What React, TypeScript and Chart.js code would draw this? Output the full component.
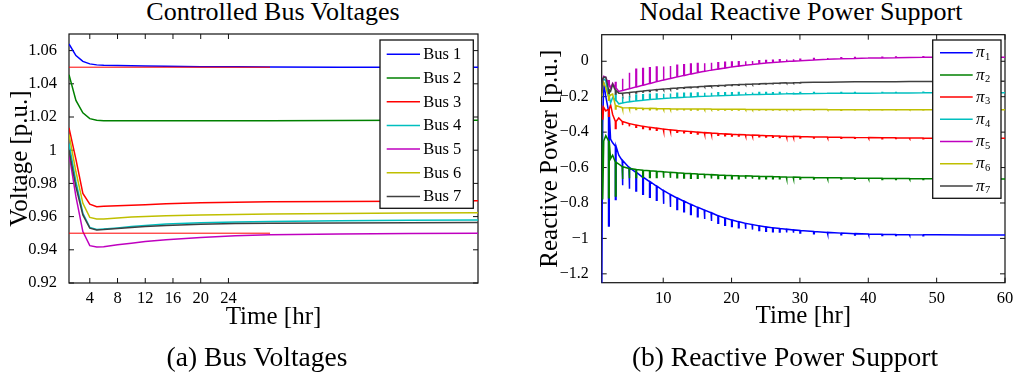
import React, { useEffect, useRef } from "react";
import { Chart, registerables } from "chart.js";

Chart.register(...registerables);

const FONT = '"Liberation Serif", "Times New Roman", serif';

// ---------- Controlled bus voltages ----------
const busTimes = [1, 2, 3, 4, 5, 6, 8, 10, 12, 15, 20, 25, 30, 40, 50, 60];
const bus1 = [1.064, 1.057, 1.0535, 1.052, 1.0514, 1.0512, 1.051, 1.0508, 1.0507, 1.0505, 1.0503, 1.0502, 1.0501, 1.05, 1.05, 1.05];
const bus2 = [1.0455, 1.03, 1.0225, 1.019, 1.018, 1.0178, 1.0178, 1.0178, 1.0178, 1.0178, 1.0178, 1.0178, 1.0178, 1.0179, 1.018, 1.018];
const bus3 = [1.0135, 0.9945, 0.974, 0.9675, 0.966, 0.9662, 0.9665, 0.9668, 0.9672, 0.9677, 0.9684, 0.9687, 0.9689, 0.9691, 0.9693, 0.9695];
const bus4 = [1.004, 0.981, 0.962, 0.9535, 0.9522, 0.9525, 0.9532, 0.954, 0.9547, 0.9555, 0.9563, 0.9568, 0.9571, 0.9575, 0.9578, 0.958];
const bus5 = [0.998, 0.972, 0.951, 0.9425, 0.9417, 0.9419, 0.943, 0.944, 0.945, 0.9461, 0.9474, 0.9484, 0.949, 0.9495, 0.9498, 0.95];
const bus6 = [1.0095, 0.987, 0.968, 0.9595, 0.9585, 0.9585, 0.9592, 0.9597, 0.9601, 0.9605, 0.961, 0.9613, 0.9615, 0.9618, 0.9621, 0.9623];
const bus7 = [1.0, 0.978, 0.961, 0.953, 0.952, 0.9522, 0.9528, 0.9535, 0.954, 0.9547, 0.9554, 0.9558, 0.956, 0.9562, 0.9563, 0.9564];
const busLabels = ["Bus 1", "Bus 2", "Bus 3", "Bus 4", "Bus 5", "Bus 6", "Bus 7"];

const limitTimes = [1, 30];
const upperLimit = [1.05, 1.05];
const lowerLimit = [0.95, 0.95];

const voltXTicks = [4, 8, 12, 16, 20, 24];
const voltYTicks = [0.92, 0.94, 0.96, 0.98, 1, 1.02, 1.04, 1.06];
const voltYLabels = ["0.92", "0.94", "0.96", "0.98", "1", "1.02", "1.04", "1.06"];

// ---------- Nodal reactive power support ----------
const qTimes = [
  1, 1.15, 1.3, 1.6, 2, 2.3, 2.6, 3, 3.5,
  4, 5, 6, 7, 8, 9, 10, 11, 12, 13,
  14, 15, 16, 17, 18, 19, 20, 21, 22, 23,
  24, 25, 26, 27, 28, 29, 30,
  32, 34, 36, 38, 40, 42, 44, 46, 48, 50,
  55, 60,
];

const pi1 = [
  -1.3, -0.35, -0.12, -0.2, -0.28, -0.44, -0.46, -0.48, -0.53,
  -0.56, -0.6, -0.627, -0.655, -0.68, -0.705, -0.73, -0.752, -0.772, -0.79,
  -0.808, -0.825, -0.84, -0.855, -0.872, -0.885, -0.896, -0.906, -0.915, -0.922,
  -0.929, -0.935, -0.94, -0.944, -0.948, -0.952, -0.955,
  -0.961, -0.966, -0.97, -0.973, -0.975, -0.977, -0.978, -0.979, -0.98, -0.98,
  -0.981, -0.981,
];
const pi1Jumps = [
  0, 0, 0, 0, -0.65, 0, 0, -0.3, 0,
  -0.14, -0.12, -0.105, -0.095, -0.088, -0.08, -0.075, -0.07, -0.065, -0.06,
  -0.057, -0.053, -0.05, -0.047, -0.043, -0.04, -0.037, -0.034, -0.031, -0.028,
  -0.026, -0.024, -0.022, -0.02, -0.018, -0.016, -0.015,
  -0.012, -0.01, -0.009, -0.008, -0.007, -0.006, -0.006, -0.005, -0.005, 0,
  0, 0,
];

const pi2 = [
  -0.3, -0.78, -0.45, -0.42, -0.45, -0.55, -0.53, -0.57, -0.58,
  -0.595, -0.605, -0.611, -0.615, -0.618, -0.621, -0.624, -0.627, -0.629, -0.632,
  -0.634, -0.636, -0.638, -0.64, -0.642, -0.643, -0.645, -0.646, -0.647, -0.648,
  -0.649, -0.65, -0.651, -0.652, -0.653, -0.654, -0.655,
  -0.656, -0.657, -0.658, -0.659, -0.66, -0.661, -0.662, -0.662, -0.663, -0.663,
  -0.664, -0.664,
];
const pi2Jumps = [
  0, 0, 0, 0, -0.32, 0, 0, -0.19, 0,
  -0.07, -0.055, -0.045, -0.04, -0.038, -0.035, -0.033, -0.031, -0.029, -0.027,
  -0.026, -0.024, -0.023, -0.022, -0.02, -0.019, -0.018, -0.017, -0.016, -0.015,
  -0.014, -0.013, -0.012, -0.011, -0.011, -0.01, -0.01,
  -0.009, -0.008, -0.007, -0.007, -0.006, -0.006, -0.005, -0.005, -0.005, -0.004,
  -0.004, 0,
];

const pi3 = [
  -0.25, -0.33, -0.26, -0.28, -0.27, -0.245, -0.3, -0.34, -0.32,
  -0.34, -0.352, -0.36, -0.367, -0.373, -0.378, -0.383, -0.387, -0.391, -0.394,
  -0.397, -0.4, -0.403, -0.405, -0.408, -0.41, -0.412, -0.414, -0.415, -0.417,
  -0.418, -0.42, -0.421, -0.422, -0.423, -0.424, -0.425,
  -0.427, -0.428, -0.429, -0.43, -0.431, -0.432, -0.432, -0.433, -0.433, -0.434,
  -0.434, -0.435,
];
const pi3Jumps = [
  0, 0, 0, 0, -0.04, 0, 0, -0.04, 0,
  -0.02, -0.015, -0.012, -0.012, -0.012, -0.012, -0.012, -0.01, -0.01, -0.01,
  -0.01, -0.01, -0.01, -0.01, -0.01, -0.01, -0.01, -0.008, -0.008, -0.008,
  -0.008, -0.008, -0.008, -0.008, -0.008, -0.008, -0.008,
  -0.006, -0.006, -0.005, -0.005, -0.005, -0.005, -0.004, -0.004, -0.004, -0.004,
  0, 0,
];

const pi4 = [
  -0.15, -0.11, -0.1, -0.11, -0.2, -0.235, -0.205, -0.22, -0.24,
  -0.235, -0.229, -0.224, -0.22, -0.216, -0.213, -0.21, -0.207, -0.205, -0.203,
  -0.201, -0.199, -0.197, -0.196, -0.194, -0.193, -0.192, -0.19, -0.189, -0.188,
  -0.187, -0.186, -0.186, -0.185, -0.184, -0.184, -0.183,
  -0.182, -0.181, -0.181, -0.18, -0.18, -0.179, -0.179, -0.179, -0.178, -0.178,
  -0.178, -0.178,
];
const pi4Jumps = [
  0, 0, 0, 0, 0.03, 0, 0, 0.03, 0,
  0.035, 0.035, 0.033, 0.031, 0.03, 0.028, 0.026, 0.025, 0.024, 0.022,
  0.021, 0.02, 0.019, 0.018, 0.017, 0.016, 0.015, 0.014, 0.013, 0.012,
  0.011, 0.01, 0.009, 0.009, 0.008, 0.008, 0.007,
  0.006, 0.005, 0.005, 0.004, 0.004, 0.003, 0.003, 0.003, 0.003, 0,
  0, 0,
];

const pi5 = [
  -0.16, -0.1, -0.085, -0.09, -0.13, -0.15, -0.125, -0.15, -0.17,
  -0.165, -0.155, -0.145, -0.135, -0.125, -0.115, -0.106, -0.097, -0.088, -0.08,
  -0.072, -0.064, -0.057, -0.05, -0.044, -0.038, -0.032, -0.027, -0.022, -0.018,
  -0.014, -0.01, -0.007, -0.004, -0.001, 0.001, 0.003,
  0.007, 0.011, 0.014, 0.016, 0.018, 0.019, 0.02, 0.021, 0.022, 0.022,
  0.023, 0.023,
];
const pi5Jumps = [
  0, 0, 0, 0, 0.02, 0, 0, 0.03, 0,
  0.066, 0.09, 0.1, 0.094, 0.089, 0.082, 0.076, 0.071, 0.066, 0.061,
  0.056, 0.051, 0.046, 0.041, 0.036, 0.032, 0.028, 0.025, 0.022, 0.019,
  0.017, 0.015, 0.013, 0.012, 0.011, 0.01, 0.009,
  0.008, 0.007, 0.006, 0.005, 0.005, 0.004, 0.004, 0.003, 0.003, 0,
  0, 0,
];

const pi6 = [
  -0.2, -0.14, -0.12, -0.15, -0.2, -0.19, -0.185, -0.25, -0.255,
  -0.262, -0.263, -0.264, -0.265, -0.266, -0.267, -0.268, -0.268, -0.269, -0.269,
  -0.27, -0.27, -0.27, -0.27, -0.271, -0.271, -0.271, -0.271, -0.271, -0.272,
  -0.272, -0.272, -0.272, -0.272, -0.272, -0.272, -0.272,
  -0.272, -0.272, -0.273, -0.273, -0.273, -0.273, -0.273, -0.273, -0.273, -0.273,
  -0.273, -0.273,
];
const pi6Jumps = [
  0, 0, 0, 0, -0.02, 0, 0, -0.02, 0,
  -0.01, -0.008, -0.008, -0.007, -0.007, -0.006, -0.006, -0.006, -0.005, -0.005,
  -0.005, -0.005, -0.005, -0.004, -0.004, -0.004, -0.004, -0.004, -0.004, -0.004,
  -0.003, -0.003, -0.003, -0.003, -0.003, -0.003, -0.003,
  -0.003, -0.003, -0.003, -0.002, -0.002, -0.002, -0.002, -0.002, -0.002, -0.002,
  0, 0,
];

const pi7 = [
  -0.18, -0.1, -0.09, -0.09, -0.16, -0.17, -0.13, -0.165, -0.18,
  -0.18, -0.176, -0.172, -0.168, -0.164, -0.16, -0.157, -0.154, -0.151, -0.148,
  -0.146, -0.144, -0.141, -0.139, -0.137, -0.135, -0.133, -0.131, -0.13, -0.128,
  -0.127, -0.126, -0.124, -0.123, -0.122, -0.121, -0.12,
  -0.119, -0.118, -0.117, -0.116, -0.116, -0.115, -0.115, -0.114, -0.114, -0.114,
  -0.113, -0.113,
];
const pi7Jumps = [
  0, 0, 0, 0, -0.02, 0, 0, -0.02, 0,
  -0.008, -0.007, -0.007, -0.006, -0.006, -0.006, -0.005, -0.005, -0.005, -0.005,
  -0.004, -0.004, -0.004, -0.004, -0.004, -0.004, -0.004, -0.004, -0.004, -0.004,
  -0.003, -0.003, -0.003, -0.003, -0.003, -0.003, -0.003,
  0, 0, 0, 0, 0, 0, 0, 0, 0, 0,
  0, 0,
];
const piLabels = ["π1", "π2", "π3", "π4", "π5", "π6", "π7"];

const powerXTicks = [10, 20, 30, 40, 50, 60];
const powerYTicks = [-1.2, -1, -0.8, -0.6, -0.4, -0.2, 0];
const powerYLabels = ["−1.2", "−1", "−0.8", "−0.6", "−0.4", "−0.2", "0"];

const lineColors = ["#0000ff", "#008000", "#ff0000", "#00bfbf", "#bf00bf", "#bfbf00", "#404040"];

// Duration (hours) a jump is held before the series settles back.
const JUMP_HOLD = 0.1;

// ---------- helpers ----------
type Pt = { x: number; y: number };

function pairUp(xs: number[], ys: number[]): Pt[] {
  return xs.map((x, i) => ({ x, y: ys[i] }));
}

// Each hourly controller update shows up as a short vertical excursion.
function withJumps(values: number[], jumps: number[]): Pt[] {
  const pts: Pt[] = [];
  qTimes.forEach((t, i) => {
    pts.push({ x: t, y: values[i] });
    if (jumps[i] !== 0) {
      pts.push({ x: t, y: values[i] + jumps[i] });
      pts.push({ x: t + JUMP_HOLD, y: values[i] + jumps[i] });
      pts.push({ x: t + JUMP_HOLD, y: values[i] });
    }
  });
  return pts;
}

// Box frame with inward tick marks on all four sides.
const frameTicks = {
  id: "frameTicks",
  beforeDatasetsDraw(chart: any) {
    const { ctx, chartArea: a, scales } = chart;
    const len = 5;
    ctx.save();
    ctx.strokeStyle = "#111";
    ctx.lineWidth = 1.2;
    ctx.strokeRect(a.left, a.top, a.right - a.left, a.bottom - a.top);
    ctx.lineWidth = 1;
    ctx.beginPath();
    for (const t of scales.x.ticks) {
      const px = scales.x.getPixelForValue(t.value);
      ctx.moveTo(px, a.bottom);
      ctx.lineTo(px, a.bottom - len);
      ctx.moveTo(px, a.top);
      ctx.lineTo(px, a.top + len);
    }
    for (const t of scales.y.ticks) {
      const py = scales.y.getPixelForValue(t.value);
      ctx.moveTo(a.left, py);
      ctx.lineTo(a.left + len, py);
      ctx.moveTo(a.right, py);
      ctx.lineTo(a.right - len, py);
    }
    ctx.stroke();
    ctx.restore();
  },
};

type LegendLayout = {
  width: number;
  height: number;
  insetRight: number;
  insetTop: number;
  firstRow: number;
  rowGap: number;
  lineFrom: number;
  lineTo: number;
  textX: number;
  subscript: boolean;
};

function boxLegend(labels: string[], L: LegendLayout) {
  return {
    id: "boxLegend",
    afterDatasetsDraw(chart: any) {
      const { ctx, chartArea: a } = chart;
      const left = a.right - L.insetRight - L.width;
      const top = a.top + L.insetTop;
      ctx.save();
      ctx.fillStyle = "#fff";
      ctx.fillRect(left, top, L.width, L.height);
      ctx.strokeStyle = "#111";
      ctx.lineWidth = 1.3;
      ctx.strokeRect(left, top, L.width, L.height);
      labels.forEach((label, i) => {
        const ds = chart.data.datasets[i];
        const y = top + L.firstRow + i * L.rowGap;
        ctx.strokeStyle = ds.borderColor;
        ctx.lineWidth = ds.borderWidth;
        ctx.beginPath();
        ctx.moveTo(left + L.lineFrom, y);
        ctx.lineTo(left + L.lineTo, y);
        ctx.stroke();
        ctx.fillStyle = "#000";
        if (L.subscript) {
          const head = label.slice(0, 1);
          const sub = label.slice(1);
          ctx.textBaseline = "alphabetic";
          ctx.font = `italic 17px ${FONT}`;
          ctx.fillText(head, left + L.textX, y + 4.6);
          const w = ctx.measureText(head).width;
          ctx.font = `10.5px ${FONT}`;
          ctx.fillText(sub, left + L.textX + w + 0.5, y + 7.2);
        } else {
          ctx.textBaseline = "middle";
          ctx.font = `16.5px ${FONT}`;
          ctx.fillText(label, left + L.textX, y + 0.5);
        }
      });
      ctx.restore();
    },
  };
}

const tickFont = { family: FONT, size: 16.5 };
const titleFont = { family: FONT, size: 25 };

function voltageConfig(): any {
  const buses = [bus1, bus2, bus3, bus4, bus5, bus6, bus7];
  const datasets: any[] = buses.map((vals, i) => ({
    label: busLabels[i],
    data: pairUp(busTimes, vals),
    borderColor: lineColors[i],
    borderWidth: 1.5,
    pointRadius: 0,
    tension: 0,
    order: 10 - i,
  }));
  [upperLimit, lowerLimit].forEach((vals) =>
    datasets.push({
      data: pairUp(limitTimes, vals),
      borderColor: "#ff0000",
      borderWidth: 1,
      pointRadius: 0,
      order: 0,
    })
  );
  return {
    type: "line",
    data: { datasets },
    options: {
      responsive: false,
      animation: false,
      events: [],
      layout: { padding: { left: 0, top: 34, right: 22, bottom: 48 } },
      scales: {
        x: {
          type: "linear",
          min: 1,
          max: 60,
          afterBuildTicks: (s: any) => {
            s.ticks = voltXTicks.map((v) => ({ value: v }));
          },
          afterFit: (s: any) => {
            s.height = 50;
          },
          grid: { display: false },
          border: { display: false },
          ticks: { font: tickFont, color: "#000", padding: -2, maxRotation: 0, autoSkip: false },
          title: { display: true, text: "Time [hr]", font: titleFont, color: "#000", padding: { top: 0, bottom: 1 } },
        },
        y: {
          type: "linear",
          min: 0.92,
          max: 1.07,
          afterBuildTicks: (s: any) => {
            s.ticks = voltYTicks.map((v) => ({ value: v }));
          },
          afterFit: (s: any) => {
            s.width = 69;
          },
          grid: { display: false },
          border: { display: false },
          ticks: {
            font: tickFont,
            color: "#000",
            padding: 4,
            autoSkip: false,
            callback: (_v: any, i: number) => voltYLabels[i],
          },
          title: { display: true, text: "Voltage [p.u.]", font: titleFont, color: "#000", padding: { top: 5, bottom: 0 } },
        },
      },
      plugins: { legend: { display: false }, tooltip: { enabled: false } },
    },
    plugins: [
      frameTicks,
      boxLegend(busLabels, {
        width: 93.3,
        height: 168.3,
        insetRight: 4.7,
        insetTop: 6,
        firstRow: 14.3,
        rowGap: 23.7,
        lineFrom: 6.7,
        lineTo: 40,
        textX: 43.3,
        subscript: false,
      }),
    ],
  };
}

function powerConfig(): any {
  const series = [
    [pi1, pi1Jumps],
    [pi2, pi2Jumps],
    [pi3, pi3Jumps],
    [pi4, pi4Jumps],
    [pi5, pi5Jumps],
    [pi6, pi6Jumps],
    [pi7, pi7Jumps],
  ];
  const datasets = series.map(([vals, jumps], i) => ({
    label: piLabels[i],
    data: withJumps(vals, jumps),
    borderColor: lineColors[i],
    borderWidth: 1.5,
    pointRadius: 0,
    tension: 0,
    order: 10 - i,
  }));
  return {
    type: "line",
    data: { datasets },
    options: {
      responsive: false,
      animation: false,
      events: [],
      layout: { padding: { left: 30, top: 34.7, right: 12, bottom: 48.3 } },
      scales: {
        x: {
          type: "linear",
          min: 1,
          max: 60,
          afterBuildTicks: (s: any) => {
            s.ticks = powerXTicks.map((v) => ({ value: v }));
          },
          afterFit: (s: any) => {
            s.height = 50;
          },
          grid: { display: false },
          border: { display: false },
          ticks: { font: tickFont, color: "#000", padding: -2, maxRotation: 0, autoSkip: false },
          title: { display: true, text: "Time [hr]", font: titleFont, color: "#000", padding: { top: 0, bottom: 1 } },
        },
        y: {
          type: "linear",
          min: -1.25,
          max: 0.15,
          afterBuildTicks: (s: any) => {
            s.ticks = powerYTicks.map((v) => ({ value: v }));
          },
          afterFit: (s: any) => {
            s.width = 71.7;
          },
          grid: { display: false },
          border: { display: false },
          ticks: {
            font: { family: FONT, size: 16 },
            color: "#000",
            padding: 5,
            autoSkip: false,
            callback: (_v: any, i: number) => powerYLabels[i],
          },
          title: {
            display: true,
            text: "Reactive Power [p.u.]",
            font: titleFont,
            color: "#000",
            padding: { top: 5.8, bottom: 0 },
          },
        },
      },
      plugins: { legend: { display: false }, tooltip: { enabled: false } },
    },
    plugins: [
      frameTicks,
      boxLegend(piLabels, {
        width: 68.3,
        height: 158.3,
        insetRight: 4,
        insetTop: 5.3,
        firstRow: 12.7,
        rowGap: 22.2,
        lineFrom: 7.3,
        lineTo: 40,
        textX: 43.3,
        subscript: true,
      }),
    ],
  };
}

const heading = (center: number, top: number, size: number): React.CSSProperties => ({
  position: "absolute",
  left: center - 250,
  width: 500,
  top,
  textAlign: "center",
  fontFamily: FONT,
  fontSize: size,
  lineHeight: `${size}px`,
  color: "#000",
  whiteSpace: "nowrap",
});

export default function App() {
  const voltRef = useRef<HTMLCanvasElement>(null);
  const powerRef = useRef<HTMLCanvasElement>(null);

  useEffect(() => {
    const c1 = new Chart(voltRef.current as HTMLCanvasElement, voltageConfig());
    const c2 = new Chart(powerRef.current as HTMLCanvasElement, powerConfig());
    return () => {
      c1.destroy();
      c2.destroy();
    };
  }, []);

  return (
    <div
      style={{
        position: "absolute",
        left: 0,
        top: 0,
        width: 1017,
        height: 381,
        background: "#fff",
        overflow: "hidden",
      }}
    >
      <div style={heading(273, -1, 26)}>Controlled Bus Voltages</div>
      <div style={heading(801, -1, 26)}>Nodal Reactive Power Support</div>
      <canvas ref={voltRef} width={500} height={381} style={{ position: "absolute", left: 0, top: 0 }} />
      <canvas ref={powerRef} width={517} height={381} style={{ position: "absolute", left: 500, top: 0 }} />
      <div style={heading(257, 343, 27.5)}>(a) Bus Voltages</div>
      <div style={heading(785, 343, 27.5)}>(b) Reactive Power Support</div>
    </div>
  );
}
